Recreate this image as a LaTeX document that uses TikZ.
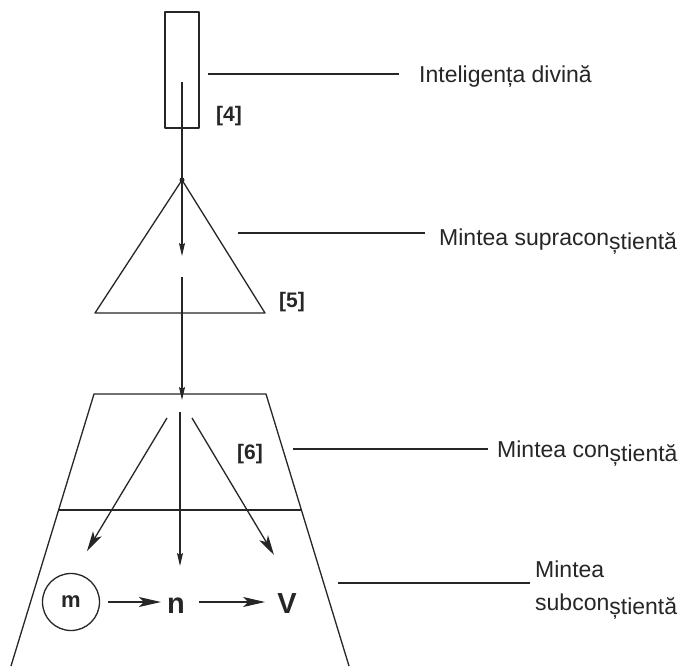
\documentclass[tikz,border=0pt]{standalone}
\usepackage{fontspec}
\setmainfont{Liberation Sans}
\usetikzlibrary{arrows.meta,calc}
\begin{document}
\begin{tikzpicture}[x=1pt,y=-1pt,
  ln/.style={draw=black!85,line width=1.3pt,line join=round},
  lbl/.style={anchor=base west,inner sep=0pt,font=\fontsize{23}{27}\selectfont,text=black!85},
  tag/.style={inner sep=0pt,font=\fontsize{21}{24}\selectfont\bfseries,text=black!85},
  varr/.style={ln,-{Stealth[length=13pt,width=6pt,inset=2pt]}},
  darr/.style={ln,-{Stealth[length=20pt,width=10pt,inset=5pt]}},
  harr/.style={ln,-{Stealth[length=22pt,width=10pt,inset=5pt]}},
  sym/.style={inner sep=0pt,anchor=base,font=\fontsize{29}{32}\selectfont\bfseries,text=black!85},
]
\useasboundingbox (0,0) rectangle (687,666);
\fill[white] (0,0) rectangle (687,666);

% top rectangle (divine intelligence)
\node[ln,draw=black!85,minimum width=34pt,minimum height=116pt,inner sep=0pt] (rect) at (182,70) {};
\coordinate (src) at (182,82);
\coordinate (apex) at (182,180);
\draw[ln] (src) -- (apex);
\fill[black!85] (apex) circle (2.5pt);

% triangle (supraconscious)
\coordinate (tl) at (95,313);
\coordinate (tr) at (265,313);
\draw[ln] (apex) -- (tl) -- (tr) -- cycle;
\coordinate (a1) at (182,256);
\draw[varr] (apex) -- (a1);
\coordinate (a2) at (182,277);
\coordinate (a3) at (182,400);
\draw[varr] (a2) -- (a3);

% trapezoid (conscious / subconscious)
\coordinate (ztl) at (94,394);
\coordinate (ztr) at (266,394);
\coordinate (zbl) at (11,666);
\coordinate (zbr) at (349,666);
\draw[ln] (zbl) -- (ztl) -- (ztr) -- (zbr);
\coordinate (ml) at (59,510);
\coordinate (mr) at (301,510);
\draw[ln] (ml) -- (mr);

% three arrows
\coordinate (s1) at (167,418);
\coordinate (e1) at (87,551);
\coordinate (s2) at (180,412);
\coordinate (e2) at (180,566);
\coordinate (s3) at (192,418);
\coordinate (e3) at (274,555);
\draw[darr] (s1) -- (e1);
\draw[varr] (s2) -- (e2);
\draw[darr] (s3) -- (e3);

% m -> n -> V
\node[ln,draw=black!85,circle,minimum size=57pt,inner sep=0pt,
      font=\fontsize{22}{24}\selectfont\bfseries,text=black!85] (m) at (71,602) {m};
\node[sym] (n) at (176,613) {n};
\node[sym] (V) at (287,613) {V};
\draw[harr,shorten <=8pt,shorten >=6pt] (m.east) -- (m.east -| n.west);
\draw[harr,shorten <=14pt,shorten >=12pt] (m.east -| n.east) -- (m.east -| V.west);

% tags
\node[tag] (t4) at (229,116) {[4]};
\node[tag] (t5) at (292,302) {[5]};
\node[tag] (t6) at (250,454) {[6]};

% labels
\node[lbl] (L1) at (419,83) {Inteligența divină};
\coordinate (c1) at (208,74);
\draw[ln,shorten >=20pt] (c1) -- (c1 -| L1.west);

\node[lbl] (L2) at (439,245) {Mintea supracon\raisebox{-4pt}{știentă}};
\coordinate (c2) at (238,233);
\draw[ln,shorten >=14pt] (c2) -- (c2 -| L2.west);

\node[lbl] (L3) at (497,457) {Mintea con\raisebox{-4pt}{știentă}};
\coordinate (c3) at (293,449);
\draw[ln,shorten >=9pt] (c3) -- (c3 -| L3.west);

\node[lbl] (L4a) at (535,577) {Mintea};
\node[lbl] (L4b) at (535,610) {subcon\raisebox{-4pt}{știentă}};
\coordinate (c4) at (338,583);
\draw[ln,shorten >=5pt] (c4) -- (c4 -| L4a.west);
\end{tikzpicture}
\end{document}
